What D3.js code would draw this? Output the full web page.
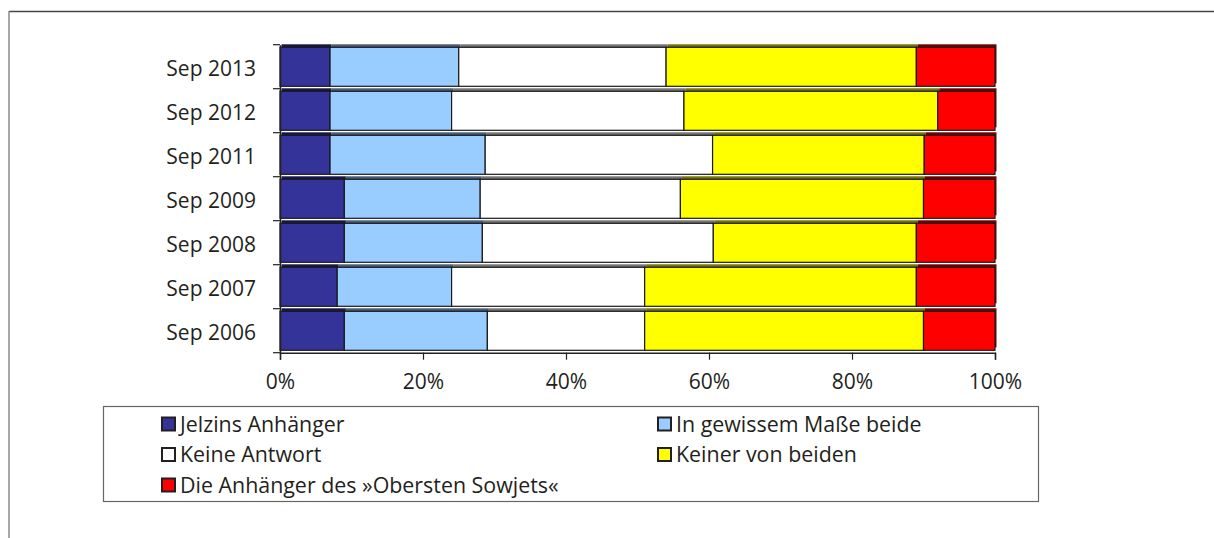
<!DOCTYPE html>
<html>
<head>
<meta charset="utf-8">
<script src="https://cdnjs.cloudflare.com/ajax/libs/d3/7.8.5/d3.min.js"></script>
<style>
  html, body { margin: 0; padding: 0; background: #fff; }
  svg { display: block; }
  text { font-family: "Open Sans", sans-serif; fill: #231f20; }
</style>
</head>
<body>
<svg id="chart" width="1214" height="538"></svg>
<script>
// ---- data ----
const categories = ["Sep 2013", "Sep 2012", "Sep 2011", "Sep 2009", "Sep 2008", "Sep 2007", "Sep 2006"];
const seriesNames = ["Jelzins Anhänger", "In gewissem Maße beide", "Keine Antwort", "Keiner von beiden", "Die Anhänger des »Obersten Sowjets«"];
const jelzin   = [7, 7, 7, 9, 9, 8, 9];
const beide    = [18, 17, 21.7, 19, 19.3, 16, 20];
const keine    = [29, 32.5, 31.8, 28, 32.3, 27, 22];
const keiner   = [35, 35.5, 29.6, 34, 28.4, 38, 39];
const sowjet   = [11, 8, 9.9, 10, 11, 11, 10];
const seriesValues = [jelzin, beide, keine, keiner, sowjet];
const colors = ["#333399", "#99ccff", "#ffffff", "#ffff00", "#ff0000"];
const xTicks = [0, 20, 40, 60, 80, 100];

// ---- layout ----
const svg = d3.select("#chart");
const plot = { left: 280, right: 995, top: 44.7, bottom: 352.7 };

// outer frame
svg.append("line").attr("x1", 9).attr("x2", 1214).attr("y1", 11.5).attr("y2", 11.5)
  .attr("stroke", "#444").attr("stroke-width", 1.5);
svg.append("line").attr("x1", 9).attr("x2", 9).attr("y1", 11).attr("y2", 538)
  .attr("stroke", "#888").attr("stroke-width", 1.5);

const x = d3.scaleLinear().domain([0, 100]).range([plot.left, plot.right]);
const y = d3.scaleBand().domain(categories).range([plot.top, plot.bottom]).paddingInner(0).paddingOuter(0);

// stacked data
const rows = categories.map((c, i) => {
  const o = { cat: c };
  seriesNames.forEach((s, j) => o[s] = seriesValues[j][i]);
  return o;
});
const stack = d3.stack().keys(seriesNames).offset(d3.stackOffsetExpand);
const stacked = stack(rows);

const g = svg.append("g");
const shadowDy = 3, barTopPad = 2.6, barH = y.bandwidth() - 5;

// shadows first
stacked.forEach((layer, j) => {
  g.append("g").selectAll("rect").data(layer).join("rect")
    .attr("x", d => x(d[0] * 100) + 1.5)
    .attr("y", d => y(d.data.cat) + barTopPad - shadowDy)
    .attr("width", d => x(d[1] * 100) - x(d[0] * 100))
    .attr("height", barH)
    .attr("fill", d3.color(colors[j]).darker(2.2).formatHex());
});
stacked.forEach((layer, j) => {
  g.append("g").selectAll("rect").data(layer).join("rect")
    .attr("x", d => x(d[0] * 100))
    .attr("y", d => y(d.data.cat) + barTopPad)
    .attr("width", d => x(d[1] * 100) - x(d[0] * 100))
    .attr("height", barH)
    .attr("fill", colors[j])
    .attr("stroke", "#1a1a1a")
    .attr("stroke-width", 1.2);
});

// y axis
const yAxis = d3.axisLeft(y).tickSize(0).tickPadding(24);
const ya = svg.append("g").attr("transform", `translate(${plot.left},0)`).call(yAxis);
ya.select(".domain").attr("stroke", "#222").attr("stroke-width", 1.5);
ya.selectAll("text").attr("font-size", 21).attr("font-family", "Open Sans").attr("fill", "#231f20")
  .attr("dy", "0.45em");
// ticks at band boundaries
const boundaries = categories.map(c => y(c)).concat([plot.bottom]);
ya.selectAll(".bt").data(boundaries).join("line").attr("class", "bt")
  .attr("x1", -7).attr("x2", 0).attr("y1", d => d).attr("y2", d => d)
  .attr("stroke", "#222").attr("stroke-width", 1.2);

// x axis
const xAxis = d3.axisBottom(x).tickValues(xTicks).tickFormat(d => d + "%").tickSize(7).tickPadding(14);
const xa = svg.append("g").attr("transform", `translate(0,${plot.bottom})`).call(xAxis);
xa.select(".domain").attr("stroke", "#222").attr("stroke-width", 1.5);
xa.selectAll(".tick line").attr("stroke", "#222").attr("stroke-width", 1.2);
xa.selectAll("text").attr("font-size", 21).attr("font-family", "Open Sans").attr("fill", "#231f20");

// legend
svg.append("rect").attr("x", 103.5).attr("y", 406.5).attr("width", 935).attr("height", 95)
  .attr("fill", "#fff").attr("stroke", "#666").attr("stroke-width", 1.2);
const legendPos = [
  { x: 161, y: 424 }, { x: 657, y: 424 },
  { x: 161, y: 454.5 }, { x: 657, y: 454.5 },
  { x: 161, y: 485 }
];
seriesNames.forEach((s, j) => {
  const p = legendPos[j];
  const lg = svg.append("g").attr("transform", `translate(${p.x},${p.y})`);
  lg.append("rect").attr("x", 1).attr("y", -6.5).attr("width", 13).attr("height", 13)
    .attr("fill", colors[j]).attr("stroke", "#231f20").attr("stroke-width", 2);
  lg.append("text").attr("x", 19).attr("y", 0).attr("dy", "0.36em")
    .attr("font-size", 21.4).text(s);
});
</script>
</body>
</html>
